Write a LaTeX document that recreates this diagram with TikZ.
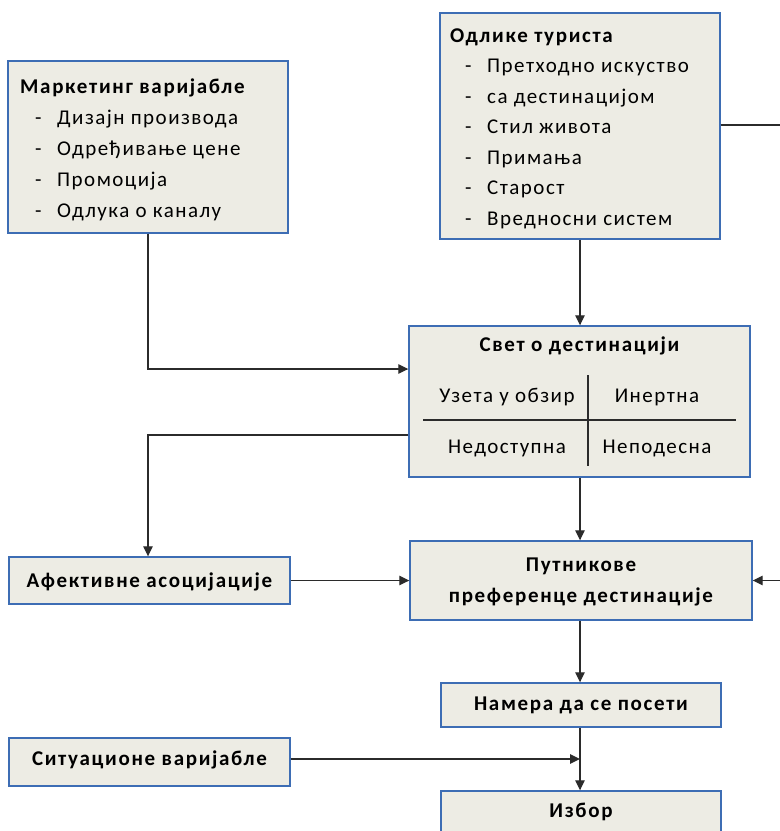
\documentclass[tikz,border=0pt]{standalone}
\usepackage{fontspec}
\setmainfont{Carlito}[LetterSpace=7, BoldFeatures={LetterSpace=8}]
\usetikzlibrary{arrows.meta}
\definecolor{boxfill}{HTML}{EDECE4}
\definecolor{boxline}{HTML}{3D6DB4}
\definecolor{wire}{HTML}{2B2B2B}
\newcommand{\bulitem}[1]{\makebox[15pt]{}\makebox[22pt][l]{-}#1}
\tikzset{
  box/.style={draw=boxline, fill=boxfill, line width=1.4pt, inner sep=0pt},
  txt/.style={inner sep=0pt, font=\fontsize{21}{30.5}\selectfont},
  btxt/.style={inner sep=0pt, font=\fontsize{21}{31}\selectfont\bfseries, align=center},
  conn/.style={draw=wire, line width=1.3pt},
  arr/.style={conn, -{Triangle[length=10pt,width=9.5pt]}},
}
\begin{document}
\begin{tikzpicture}[x=1pt,y=-1pt]
\useasboundingbox (0,0) rectangle (780,831);
\clip (0,0) rectangle (780,831);
\fill[white] (0,0) rectangle (780,831);

% boxes
\node[box, minimum width=280pt, minimum height=172pt] (mkt) at (148,147) {};
\node[box, minimum width=280pt, minimum height=226pt] (tour) at (580,126) {};
\node[box, minimum width=341pt, minimum height=151pt] (world) at (579.5,401.5) {};
\node[box, minimum width=281pt, minimum height=47pt] (aff) at (149.5,580.5) {};
\node[box, minimum width=342pt, minimum height=79pt] (pref) at (581,580.5) {};
\node[box, minimum width=280pt, minimum height=44pt] (intent) at (581,705) {};
\node[box, minimum width=281pt, minimum height=48pt] (sit) at (149.5,762) {};
\node[box, minimum width=280pt, minimum height=90pt] (choice) at (581,836) {};

% box contents
\node[txt, anchor=north west, align=left, font=\fontsize{21}{31}\selectfont] (mkttxt) at (20,78.5) {%
  \textbf{Маркетинг варијабле}\\
  \bulitem{Дизајн производа}\\
  \bulitem{Одређивање цене}\\
  \bulitem{Промоција}\\
  \bulitem{Одлука о каналу}};
\node[txt, anchor=north west, align=left] (tourtxt) at (450,28.5) {%
  \textbf{Одлике туриста}\\
  \bulitem{Претходно искуство}\\
  \bulitem{са дестинацијом}\\
  \bulitem{Стил живота}\\
  \bulitem{Примања}\\
  \bulitem{Старост}\\
  \bulitem{Вредносни систем}};

\node[btxt] (worldtitle) at (579.5,346) {Свет о дестинацији};
\node[txt] (c11) at (507,397) {Узета у обзир};
\node[txt] (c12) at (657,397) {Инертна};
\node[txt] (c21) at (507,448) {Недоступна};
\node[txt] (c22) at (657,448) {Неподесна};
\coordinate (hl) at (423,420);
\coordinate (hr) at (736,420);
\coordinate (vt) at (588,375);
\coordinate (vb) at (588,466);
\draw[conn] (hl) -- (hr);
\draw[conn] (vt) -- (vb);

\node[btxt] (afftxt) at (149.5,581.5) {Афективне асоцијације};
\node[btxt] (preftxt) at (581,582) {Путникове\\преференце дестинације};
\node[btxt] (intenttxt) at (581,705) {Намера да се посети};
\node[btxt] (sittxt) at (149.5,760) {Ситуационе варијабле};
\node[btxt] (choicetxt) at (581,812) {Избор};

% connectors
\coordinate (mktbend) at (148,369);
\draw[arr] (mkt.south) -- (mktbend) -- (mktbend -| world.west);
\draw[arr] (tour.south -| 580,0) -- (world.north -| 580,0);
\coordinate (affbend) at (148,435);
\draw[arr] (affbend -| world.west) -- (affbend) -- (aff.north -| affbend);
\draw[arr] (world.south -| 580,0) -- (pref.north -| 580,0);
\draw[arr] (aff.east) -- (pref.west);
\coordinate (rt) at (795,125);
\coordinate (rb) at (795,580.5);
\draw[arr] (rt -| tour.east) -- (rt) -- (rb) -- (pref.east);
\draw[arr] (pref.south -| 580,0) -- (intent.north -| 580,0);
\draw[arr] (intent.south -| 580,0) -- (choice.north -| 580,0);
\coordinate (sitend) at (580,759);
\draw[arr] (sit.east |- sitend) -- (sitend);
\end{tikzpicture}
\end{document}
